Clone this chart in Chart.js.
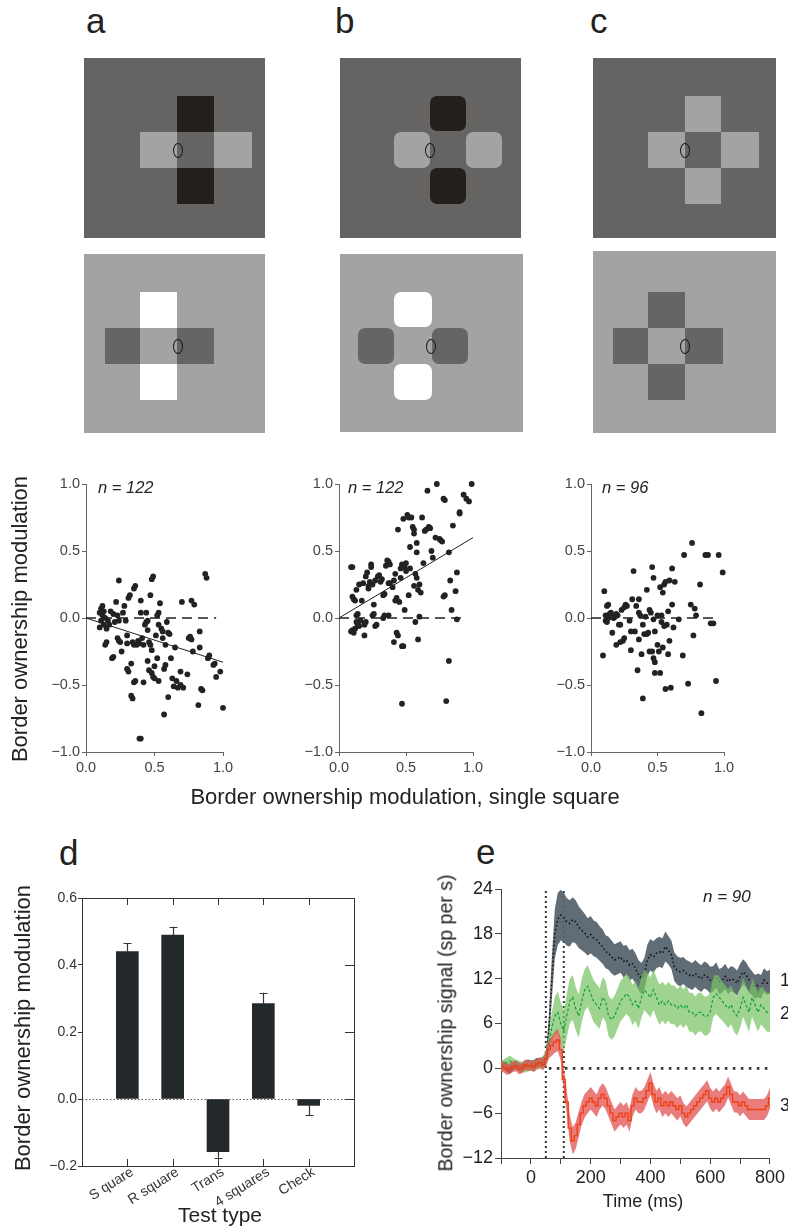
<!DOCTYPE html>
<html><head><meta charset="utf-8">
<script src="https://cdn.jsdelivr.net/npm/chart.js@4.4.1/dist/chart.umd.min.js"></script>
<style>
html,body{margin:0;padding:0;background:#fff;}
body{width:788px;height:1230px;position:relative;overflow:hidden;font-family:'Liberation Sans',Arial,Helvetica,sans-serif;color:#222;}
canvas{position:absolute;}
.t{position:absolute;white-space:nowrap;line-height:1;}
.rot{transform:translate(-50%,-50%) rotate(-90deg);}
.ctr{transform:translate(-50%,-50%);}
.c{position:absolute;}
.eye{position:absolute;border:1px solid #1a1a1a;border-radius:50%;box-sizing:border-box;width:10px;height:15px;}
.lt{position:absolute;font-size:35px;line-height:1;color:#222;}
.nn{position:absolute;font-style:italic;line-height:1;color:#222;white-space:nowrap;}
</style></head><body>

<!-- panel letters -->
<div class="lt" style="left:86px;top:3px">a</div>
<div class="lt" style="left:335px;top:3px">b</div>
<div class="lt" style="left:590px;top:3px">c</div>
<div class="lt" style="left:59px;top:835px">d</div>
<div class="lt" style="left:476px;top:834px">e</div>

<!-- stimulus a -->
<div class="c" style="left:84px;top:58px;width:181px;height:180px;background:#666462"></div>
<div class="c" style="left:177px;top:96px;width:37px;height:36px;background:#221f1c"></div>
<div class="c" style="left:177px;top:168px;width:37px;height:36px;background:#221f1c"></div>
<div class="c" style="left:140px;top:132px;width:37px;height:36px;background:#a3a3a1"></div>
<div class="c" style="left:214px;top:132px;width:38px;height:36px;background:#a3a3a1"></div>
<div class="eye" style="left:173px;top:143px"></div>

<div class="c" style="left:84px;top:254px;width:181px;height:179px;background:#a3a3a2"></div>
<div class="c" style="left:140px;top:292px;width:37px;height:36px;background:#ffffff"></div>
<div class="c" style="left:140px;top:364px;width:37px;height:36px;background:#ffffff"></div>
<div class="c" style="left:105px;top:328px;width:35px;height:36px;background:#666564"></div>
<div class="c" style="left:177px;top:328px;width:37px;height:36px;background:#666564"></div>
<div class="eye" style="left:173px;top:339px"></div>

<!-- stimulus b -->
<div class="c" style="left:340px;top:58px;width:181px;height:180px;background:#666462"></div>
<div class="c" style="left:430px;top:96px;width:36px;height:35px;background:#221f1c;border-radius:7px"></div>
<div class="c" style="left:430px;top:168px;width:36px;height:36px;background:#221f1c;border-radius:7px"></div>
<div class="c" style="left:394px;top:132px;width:36px;height:36px;background:#a3a3a1;border-radius:7px"></div>
<div class="c" style="left:466px;top:132px;width:36px;height:36px;background:#a3a3a1;border-radius:7px"></div>
<div class="eye" style="left:425px;top:143px"></div>

<div class="c" style="left:340px;top:254px;width:183px;height:178px;background:#a3a3a2"></div>
<div class="c" style="left:394px;top:292px;width:38px;height:35px;background:#ffffff;border-radius:7px"></div>
<div class="c" style="left:394px;top:364px;width:38px;height:36px;background:#ffffff;border-radius:7px"></div>
<div class="c" style="left:358px;top:328px;width:36px;height:36px;background:#666564;border-radius:7px"></div>
<div class="c" style="left:432px;top:328px;width:36px;height:36px;background:#666564;border-radius:7px"></div>
<div class="eye" style="left:426px;top:339px"></div>

<!-- stimulus c -->
<div class="c" style="left:593px;top:58px;width:183px;height:180px;background:#666462"></div>
<div class="c" style="left:685px;top:96px;width:36px;height:36px;background:#a3a3a1"></div>
<div class="c" style="left:648px;top:132px;width:37px;height:36px;background:#a3a3a1"></div>
<div class="c" style="left:721px;top:132px;width:38px;height:36px;background:#a3a3a1"></div>
<div class="c" style="left:685px;top:168px;width:36px;height:36px;background:#a3a3a1"></div>
<div class="eye" style="left:680px;top:143px"></div>

<div class="c" style="left:593px;top:251px;width:183px;height:182px;background:#a3a3a2"></div>
<div class="c" style="left:648px;top:292px;width:37px;height:36px;background:#666564"></div>
<div class="c" style="left:613px;top:328px;width:35px;height:36px;background:#666564"></div>
<div class="c" style="left:685px;top:328px;width:38px;height:36px;background:#666564"></div>
<div class="c" style="left:648px;top:364px;width:37px;height:36px;background:#666564"></div>
<div class="eye" style="left:680px;top:339px"></div>

<!-- chart canvases -->
<canvas id="sa" width="211" height="320" style="left:30px;top:470px"></canvas>
<canvas id="sb" width="208" height="320" style="left:283px;top:470px"></canvas>
<canvas id="sc" width="207" height="320" style="left:535px;top:470px"></canvas>
<canvas id="bd" width="370" height="350" style="left:0px;top:880px"></canvas>
<canvas id="le" width="358" height="360" style="left:430px;top:870px"></canvas>

<!-- text -->
<div class="nn" style="left:98px;top:479px;font-size:16.5px">n = 122</div>
<div class="nn" style="left:348px;top:479px;font-size:16.5px">n = 122</div>
<div class="nn" style="left:602px;top:479px;font-size:16.5px">n = 96</div>
<div class="nn" style="left:703px;top:888px;font-size:17px">n = 90</div>

<div class="t rot" style="left:20px;top:619px;font-size:22px">Border ownership modulation</div>
<div class="t ctr" style="left:405px;top:797px;font-size:22px">Border ownership modulation, single square</div>
<div class="t rot" style="left:23px;top:1028px;font-size:22px">Border ownership modulation</div>
<div class="t ctr" style="left:220px;top:1214px;font-size:21px">Test type</div>
<div class="t rot" style="left:446px;top:1023px;font-size:19.5px">Border ownership signal (sp per s)</div>
<div class="t ctr" style="left:643px;top:1201px;font-size:18px">Time (ms)</div>
<div class="t" style="left:780px;top:971px;font-size:18px">1</div>
<div class="t" style="left:780px;top:1004px;font-size:18px">2</div>
<div class="t" style="left:780px;top:1096px;font-size:18px">3</div>

<script>
// ---------------- DATA ----------------
// Scatter a: [single-square modulation, cross modulation]
const SCATTER_A = [
[0.10,0.04],[0.11,0.07],[0.12,0.02],[0.13,0.05],[0.11,-0.02],[0.13,-0.05],[0.14,0.00],[0.15,-0.08],[0.10,-0.07],[0.16,-0.02],
[0.17,-0.05],[0.12,0.09],[0.15,-0.18],[0.14,-0.20],[0.18,0.05],[0.20,0.03],[0.21,-0.03],[0.19,-0.30],[0.20,-0.29],[0.22,0.12],
[0.23,0.02],[0.24,-0.02],[0.23,-0.15],[0.24,-0.17],[0.25,-0.18],[0.26,-0.25],[0.24,0.28],[0.27,0.04],[0.28,0.09],[0.29,-0.02],
[0.30,-0.13],[0.30,-0.19],[0.31,0.15],[0.32,0.17],[0.30,-0.38],[0.31,-0.40],[0.33,-0.34],[0.34,-0.18],[0.35,-0.20],[0.35,0.22],
[0.36,0.24],[0.35,-0.48],[0.36,-0.47],[0.33,-0.58],[0.34,-0.60],[0.37,-0.20],[0.38,-0.17],[0.39,-0.19],[0.40,0.13],[0.40,0.04],
[0.41,-0.15],[0.39,-0.90],[0.40,-0.90],[0.42,-0.20],[0.42,-0.48],[0.43,-0.05],[0.44,-0.03],[0.45,-0.02],[0.45,-0.09],[0.44,0.04],
[0.46,-0.18],[0.47,-0.20],[0.47,0.17],[0.48,0.29],[0.49,0.31],[0.48,-0.24],[0.45,-0.32],[0.46,-0.39],[0.48,-0.41],[0.49,-0.44],
[0.50,-0.45],[0.50,-0.36],[0.51,-0.13],[0.52,0.02],[0.53,0.04],[0.53,-0.05],[0.54,0.11],[0.52,-0.30],[0.53,-0.47],[0.55,-0.08],
[0.56,-0.10],[0.56,-0.15],[0.57,-0.38],[0.57,-0.72],[0.58,-0.35],[0.58,-0.20],[0.59,-0.03],[0.60,-0.11],[0.61,-0.12],[0.60,-0.59],
[0.62,-0.30],[0.63,-0.45],[0.64,-0.51],[0.65,-0.22],[0.66,-0.47],[0.67,-0.52],[0.69,-0.50],[0.69,-0.40],[0.70,0.12],[0.71,-0.52],
[0.74,-0.42],[0.75,-0.15],[0.76,-0.14],[0.77,-0.16],[0.77,0.13],[0.78,-0.25],[0.79,0.10],[0.82,-0.65],[0.83,-0.22],[0.83,-0.10],
[0.84,-0.53],[0.85,-0.54],[0.87,0.33],[0.88,0.30],[0.89,-0.30],[0.90,-0.28],[0.93,-0.35],[0.94,-0.34],[0.95,-0.44],[0.98,-0.40],
[1.00,-0.67]
];
const SCATTER_B = [
[0.09,0.38],[0.10,0.38],[0.10,0.16],[0.11,0.14],[0.12,0.13],[0.13,0.21],[0.15,0.25],[0.17,0.13],[0.18,0.26],[0.09,-0.10],
[0.10,-0.09],[0.11,-0.11],[0.12,-0.08],[0.13,-0.03],[0.13,0.02],[0.14,0.03],[0.14,-0.05],[0.15,-0.06],[0.16,-0.02],[0.19,-0.13],
[0.19,-0.05],[0.20,-0.03],[0.20,0.31],[0.21,0.34],[0.22,0.22],[0.22,0.24],[0.23,0.27],[0.24,0.40],[0.24,0.38],[0.25,0.25],
[0.26,0.10],[0.27,0.28],[0.25,0.02],[0.26,0.03],[0.27,-0.06],[0.28,-0.05],[0.29,0.31],[0.30,0.32],[0.31,0.27],[0.32,0.29],
[0.33,0.17],[0.34,0.18],[0.33,0.00],[0.34,0.02],[0.35,0.39],[0.36,0.43],[0.37,0.42],[0.38,0.40],[0.37,0.02],[0.37,0.26],
[0.38,0.26],[0.40,0.23],[0.41,0.28],[0.42,0.33],[0.42,0.13],[0.43,0.15],[0.41,-0.18],[0.43,-0.11],[0.44,-0.13],[0.44,0.66],
[0.45,0.12],[0.46,0.30],[0.46,0.37],[0.47,0.40],[0.47,-0.21],[0.48,-0.21],[0.47,-0.64],[0.48,0.74],[0.49,0.38],[0.49,0.06],
[0.50,0.35],[0.50,0.41],[0.51,0.77],[0.52,0.75],[0.52,0.17],[0.53,0.37],[0.53,0.53],[0.54,0.75],[0.55,0.68],[0.56,0.66],
[0.56,0.63],[0.56,0.24],[0.57,0.33],[0.57,-0.03],[0.58,0.49],[0.58,0.56],[0.58,0.30],[0.59,0.21],[0.59,-0.16],[0.60,0.01],
[0.60,0.25],[0.61,0.19],[0.62,0.75],[0.63,0.41],[0.64,0.65],[0.65,0.66],[0.66,0.95],[0.67,0.68],[0.68,0.67],[0.69,0.50],
[0.70,0.45],[0.72,0.60],[0.73,1.00],[0.75,0.59],[0.76,0.58],[0.77,0.57],[0.78,0.16],[0.79,0.17],[0.78,0.89],[0.79,0.88],
[0.80,-0.62],[0.82,0.49],[0.82,-0.32],[0.83,0.28],[0.84,0.06],[0.85,0.69],[0.87,0.20],[0.88,0.34],[0.88,-0.01],[0.90,0.79],
[0.90,0.78],[0.93,0.92],[0.95,0.89],[0.97,0.87],[0.99,1.00]
];
const SCATTER_C = [
[0.09,-0.28],[0.10,0.20],[0.11,-0.02],[0.11,0.02],[0.12,0.09],[0.12,-0.03],[0.13,0.10],[0.13,0.00],[0.14,0.03],[0.15,0.04],
[0.16,-0.11],[0.17,0.00],[0.18,0.01],[0.19,0.03],[0.19,-0.20],[0.20,0.02],[0.21,-0.05],[0.22,-0.05],[0.22,-0.18],[0.23,0.06],
[0.24,-0.17],[0.25,0.08],[0.25,-0.15],[0.26,0.10],[0.27,0.09],[0.29,-0.02],[0.30,-0.24],[0.30,-0.10],[0.31,0.14],[0.32,0.35],
[0.33,-0.10],[0.34,0.09],[0.35,-0.39],[0.36,-0.16],[0.36,0.14],[0.36,0.04],[0.37,0.02],[0.38,-0.27],[0.39,-0.05],[0.39,-0.60],
[0.40,-0.12],[0.41,0.01],[0.42,-0.12],[0.42,0.21],[0.43,-0.11],[0.44,-0.25],[0.44,0.06],[0.45,0.04],[0.46,-0.25],[0.46,0.38],
[0.47,-0.30],[0.47,-0.01],[0.47,0.30],[0.48,-0.33],[0.48,-0.10],[0.48,-0.41],[0.50,-0.20],[0.50,0.02],[0.51,-0.25],[0.52,-0.41],
[0.52,0.23],[0.53,0.02],[0.53,-0.03],[0.54,-0.22],[0.54,0.19],[0.55,0.25],[0.55,-0.06],[0.56,-0.53],[0.56,0.27],[0.57,-0.05],
[0.58,-0.27],[0.58,0.05],[0.59,-0.17],[0.59,0.28],[0.60,-0.52],[0.61,0.10],[0.61,0.37],[0.62,-0.07],[0.63,0.27],[0.66,-0.01],
[0.69,-0.28],[0.70,0.47],[0.73,-0.49],[0.75,0.10],[0.76,0.56],[0.77,-0.13],[0.78,0.07],[0.79,0.02],[0.82,0.25],[0.83,-0.71],
[0.86,0.47],[0.88,0.47],[0.90,-0.04],[0.92,-0.04],[0.94,-0.47],[0.96,0.47],[0.99,0.34]
];
const FIT_A = [[0,0],[1.0,-0.33]];
const FIT_B = [[0,0],[1.0,0.60]];
const ZERO_END_A = 0.95, ZERO_END_B = 0.955, ZERO_END_C = 0.96;

// Panel d
const TEST_TYPES = ['S quare','R square','Trans','4 squares','Check'];
const MODULATION = [0.440, 0.489, -0.157, 0.285, -0.019];
const MOD_SEM = [0.026, 0.025, 0.018, 0.032, 0.029];

// Panel e (time in ms, signal in spikes/s)
const TIME_MS = [
-100,-90,-80,-70,-60,-50,-40,-30,-20,-10,
0,10,20,30,40,50,60,70,80,90,
100,110,120,130,140,150,160,170,180,190,
200,210,220,230,240,250,260,270,280,290,
300,310,320,330,340,350,360,370,380,390,
400,410,420,430,440,450,460,470,480,490,
500,510,520,530,540,550,560,570,580,590,
600,610,620,630,640,650,660,670,680,690,
700,710,720,730,740,750,760,770,780,790,
800];
const SIG1_MEAN = [
0.2,0.4,0.1,-0.2,0.3,0.5,0.2,0.0,0.3,0.6,
0.4,0.5,0.8,0.7,0.9,1.0,5.0,12.0,18.0,20.0,
20.5,20.2,19.6,19.4,19.9,19.6,18.9,18.5,18.1,17.6,
17.9,17.4,17.2,16.7,16.3,15.6,15.4,14.9,14.5,14.7,
14.9,14.3,14.5,13.8,14.0,13.4,12.5,12.0,12.7,14.5,
15.2,14.9,15.4,15.6,15.4,16.3,15.8,15.2,13.6,13.1,
12.9,13.1,12.7,12.5,12.3,12.7,12.3,12.0,12.5,12.3,
11.8,12.0,12.5,11.6,11.8,12.3,11.6,12.0,11.8,11.4,
12.3,12.9,12.5,11.8,11.4,10.9,11.1,10.9,11.8,11.4,
11.6];
const SIG1_SEM = [
0.6,0.6,0.6,0.6,0.6,0.6,0.6,0.6,0.6,0.6,
0.6,0.6,0.6,0.6,0.7,0.9,1.8,2.8,3.3,3.5,
3.4,3.3,3.2,3.1,3.0,2.9,2.8,2.7,2.6,2.5,
2.5,2.4,2.4,2.3,2.3,2.2,2.2,2.2,2.1,2.1,
2.1,2.1,2.0,2.0,2.0,2.0,2.0,2.1,2.1,2.1,
2.1,2.1,2.0,2.0,2.0,2.0,1.9,1.9,1.9,1.9,
1.9,1.8,1.8,1.8,1.8,1.8,1.8,1.8,1.8,1.8,
1.8,1.7,1.7,1.7,1.7,1.7,1.7,1.7,1.7,1.7,
1.7,1.7,1.7,1.7,1.6,1.6,1.6,1.6,1.6,1.6,
1.6];
const SIG2_MEAN = [
0.2,0.5,0.8,1.0,0.7,0.4,0.3,0.2,0.1,0.3,
0.4,0.2,0.5,0.6,0.8,1.5,3.0,5.5,7.0,7.5,
6.0,5.0,7.0,9.0,9.5,8.0,7.0,9.0,10.5,11.0,
10.0,9.0,8.5,8.0,9.5,9.0,7.0,6.5,7.0,8.0,
9.0,9.5,10.0,9.5,8.5,9.0,8.0,9.5,10.5,10.0,
9.5,10.5,9.5,8.5,9.0,8.5,9.0,8.5,8.5,8.0,
8.5,8.0,8.5,7.5,7.5,7.0,7.5,7.5,7.0,7.0,
7.5,9.5,10.0,9.5,9.0,8.5,8.0,8.5,7.5,7.0,
8.0,9.5,8.5,7.5,9.5,8.5,7.5,8.5,8.0,7.5,
7.5];
const SIG2_SEM = [
0.7,0.7,0.7,0.7,0.7,0.7,0.7,0.7,0.7,0.7,
0.7,0.7,0.7,0.7,0.8,1.0,1.5,2.0,2.5,2.8,
2.8,2.8,2.9,3.0,3.0,2.9,2.9,2.9,2.8,2.8,
2.8,2.8,2.8,2.7,2.7,2.7,2.7,2.7,2.7,2.7,
2.7,2.7,2.7,2.7,2.7,2.7,2.7,2.7,2.7,2.7,
2.7,2.7,2.7,2.7,2.6,2.6,2.6,2.6,2.6,2.6,
2.6,2.6,2.6,2.6,2.6,2.6,2.6,2.6,2.6,2.6,
2.6,2.7,2.7,2.7,2.6,2.6,2.6,2.6,2.6,2.6,
2.6,2.6,2.6,2.6,2.6,2.6,2.6,2.6,2.6,2.6,
2.6];
const SIG3_MEAN = [
0.3,0.1,-0.2,0.0,0.2,0.3,-0.1,0.0,0.5,0.3,
0.4,0.2,0.6,0.8,0.5,1.2,2.5,3.0,3.5,3.8,
2.5,-1.5,-4.5,-8.0,-9.7,-9.0,-7.5,-6.0,-5.0,-4.5,
-4.0,-4.5,-5.0,-4.0,-3.5,-4.0,-5.0,-6.0,-7.0,-6.5,
-6.0,-6.5,-6.0,-7.0,-5.0,-4.0,-4.5,-4.5,-4.0,-3.0,
-2.0,-3.5,-4.5,-4.0,-5.0,-4.5,-5.0,-4.5,-5.0,-5.5,
-5.0,-6.0,-6.5,-6.0,-5.5,-5.0,-4.5,-4.0,-3.5,-3.0,
-4.0,-4.5,-4.0,-4.5,-4.0,-3.5,-2.5,-3.5,-4.5,-4.5,
-5.0,-4.5,-5.0,-5.5,-5.5,-5.5,-5.5,-5.5,-5.5,-5.0,
-4.0];
const SIG3_SEM = [
0.7,0.7,0.7,0.7,0.7,0.7,0.7,0.7,0.7,0.7,
0.7,0.7,0.7,0.7,0.8,1.0,1.2,1.3,1.4,1.5,
1.5,1.6,1.7,1.8,1.8,1.8,1.7,1.6,1.6,1.5,
1.5,1.5,1.5,1.5,1.5,1.5,1.5,1.5,1.5,1.5,
1.5,1.5,1.5,1.5,1.5,1.5,1.5,1.5,1.5,1.5,
1.5,1.5,1.5,1.5,1.5,1.5,1.5,1.5,1.5,1.5,
1.4,1.4,1.4,1.4,1.4,1.4,1.4,1.4,1.4,1.4,
1.4,1.4,1.4,1.4,1.4,1.4,1.4,1.4,1.4,1.4,
1.4,1.4,1.4,1.4,1.4,1.4,1.4,1.4,1.4,1.4,
1.4];
const ONSET_LINES_MS = [50, 110];
const ZERO_LINE_MS = [60, 800];

// ---------------- CHARTS ----------------
Chart.defaults.font.family = "'Liberation Sans', Arial, Helvetica, sans-serif";
Chart.defaults.animation = false;
Chart.defaults.events = [];
Chart.defaults.plugins.legend.display = false;
Chart.defaults.plugins.tooltip.enabled = false;

const fmt1 = v => (Math.abs(v) < 1e-9 ? '0.0' : v.toFixed(1).replace('-', '\u2212'));
const fmtInt = v => String(v).replace('-', '\u2212');
const toXY = arr => arr.map(p => ({x: p[0], y: p[1]}));

function scatterChart(id, points, fit, zeroEnd) {
  const ds = [
    {data: toXY(points), pointRadius: 2.9, pointBackgroundColor: '#222', pointBorderWidth: 0, clip: false, order: 1}
  ];
  if (fit) ds.push({data: toXY(fit), showLine: true, pointRadius: 0, borderColor: '#222', borderWidth: 1, clip: false, order: 2});
  ds.push({data: toXY([[0, 0], [zeroEnd, 0]]), showLine: true, pointRadius: 0, borderColor: '#222', borderWidth: 1.3, borderDash: [10, 6], order: 3});
  const axisCommon = {
    grid: {display: true, drawOnChartArea: false, drawTicks: true, tickLength: 4, color: '#666', tickColor: '#666'},
    border: {display: true, color: '#666', width: 1}
  };
  return new Chart(document.getElementById(id), {
    type: 'scatter',
    data: {datasets: ds},
    options: {
      responsive: false, devicePixelRatio: 1,
      layout: {padding: {top: 14, right: 18, left: 0, bottom: 0}},
      scales: {
        x: Object.assign({type: 'linear', min: 0, max: 1,
          ticks: {stepSize: 0.5, callback: fmt1, color: '#444', font: {size: 14.5}, padding: 3, maxRotation: 0},
          afterFit: s => { s.height = 38; }}, axisCommon),
        y: Object.assign({type: 'linear', min: -1, max: 1,
          ticks: {stepSize: 0.5, callback: fmt1, color: '#444', font: {size: 14.5}, padding: 2},
          afterFit: s => { s.width = 56; }}, axisCommon)
      }
    }
  });
}
scatterChart('sa', SCATTER_A, FIT_A, ZERO_END_A);
scatterChart('sb', SCATTER_B, FIT_B, ZERO_END_B);
scatterChart('sc', SCATTER_C, null, ZERO_END_C);

// Panel d bar chart
const barFrame = {
  id: 'barFrame',
  beforeDatasetsDraw(chart) {
    const {ctx, chartArea: a, scales: {y}} = chart;
    const y0 = Math.round(y.getPixelForValue(0)) + 0.5;
    ctx.save();
    ctx.strokeStyle = '#555'; ctx.lineWidth = 1; ctx.setLineDash([1.5, 2]);
    ctx.beginPath(); ctx.moveTo(a.left, y0); ctx.lineTo(a.right, y0); ctx.stroke();
    ctx.restore();
  },
  afterDatasetsDraw(chart) {
    const {ctx, scales: {y}} = chart;
    const meta = chart.getDatasetMeta(0);
    ctx.save();
    ctx.strokeStyle = '#333'; ctx.lineWidth = 1.2;
    MODULATION.forEach((v, i) => {
      const bar = meta.data[i + 1];
      const tip = v + Math.sign(v) * MOD_SEM[i];
      const yb = y.getPixelForValue(v), yt = y.getPixelForValue(tip);
      const x = Math.round(bar.x) + 0.5;
      ctx.beginPath();
      ctx.moveTo(x, yb); ctx.lineTo(x, yt);
      ctx.moveTo(x - 4, Math.round(yt) + 0.5); ctx.lineTo(x + 4, Math.round(yt) + 0.5);
      ctx.stroke();
    });
    ctx.restore();
  },
  afterDraw(chart) {
    const {ctx, chartArea: a, scales: {x, y}} = chart;
    ctx.save();
    ctx.strokeStyle = '#333'; ctx.lineWidth = 1;
    ctx.strokeRect(Math.round(a.left) + 0.5, Math.round(a.top) + 0.5, Math.round(a.right - a.left), Math.round(a.bottom - a.top));
    ctx.beginPath();
    TEST_TYPES.forEach((c, i) => {
      const px = Math.round(x.getPixelForValue(i + 1)) + 0.5;
      ctx.moveTo(px, a.top); ctx.lineTo(px, a.top + 7);
      ctx.moveTo(px, a.bottom); ctx.lineTo(px, a.bottom - 7);
    });
    y.ticks.forEach(t => {
      const py = Math.round(y.getPixelForValue(t.value)) + 0.5;
      ctx.moveTo(a.right, py); ctx.lineTo(a.right - 9, py);
    });
    ctx.stroke();
    ctx.restore();
  }
};
new Chart(document.getElementById('bd'), {
  type: 'bar',
  data: {
    labels: ['', ...TEST_TYPES, ''],
    datasets: [{data: [null, ...MODULATION, null], backgroundColor: '#23282b', barThickness: 22, borderWidth: 0}]
  },
  options: {
    responsive: false, devicePixelRatio: 1,
    layout: {padding: {top: 18, right: 16, left: 0, bottom: 0}},
    scales: {
      x: {type: 'category', offset: false,
        grid: {display: true, offset: false, drawOnChartArea: false, drawTicks: false},
        border: {display: true, color: '#333'},
        ticks: {autoSkip: false, minRotation: 32, maxRotation: 32, color: '#333', font: {size: 14}, padding: -2, labelOffset: 5},
        afterFit: s => { s.height = 64; }},
      y: {type: 'linear', min: -0.2, max: 0.6,
        grid: {display: true, drawOnChartArea: false, drawTicks: true, tickLength: 4, color: '#333'},
        border: {display: true, color: '#333'},
        ticks: {stepSize: 0.2, callback: fmt1, color: '#333', font: {size: 14}, padding: 1},
        afterFit: s => { s.width = 82; }}
    }
  },
  plugins: [barFrame]
});

// Panel e line chart with SEM bands
const series = (vals) => TIME_MS.map((t, i) => ({x: t, y: vals[i]}));
const upper = (m, s) => series(m.map((v, i) => v + s[i]));
const lower = (m, s) => series(m.map((v, i) => v - s[i]));
const Y_RANGE_E = [-12, 24];
const lineBase = {pointRadius: 0, borderWidth: 0, tension: 0};
new Chart(document.getElementById('le'), {
  type: 'line',
  data: {datasets: [
    Object.assign({}, lineBase, {data: [{x: ONSET_LINES_MS[0], y: Y_RANGE_E[0]}, {x: ONSET_LINES_MS[0], y: Y_RANGE_E[1]}], borderColor: '#333', borderWidth: 2, borderDash: [2, 3], order: 30}),
    Object.assign({}, lineBase, {data: [{x: ONSET_LINES_MS[1], y: Y_RANGE_E[0]}, {x: ONSET_LINES_MS[1], y: Y_RANGE_E[1]}], borderColor: '#333', borderWidth: 2, borderDash: [2, 3], order: 30}),
    Object.assign({}, lineBase, {data: [{x: ZERO_LINE_MS[0], y: 0}, {x: ZERO_LINE_MS[1], y: 0}], borderColor: '#333', borderWidth: 2.6, borderDash: [2.6, 5.4], order: 29}),
    Object.assign({}, lineBase, {data: upper(SIG1_MEAN, SIG1_SEM), fill: '+1', backgroundColor: 'rgba(88,101,111,0.95)', order: 20}),
    Object.assign({}, lineBase, {data: lower(SIG1_MEAN, SIG1_SEM), fill: false, order: 20}),
    Object.assign({}, lineBase, {data: series(SIG1_MEAN), borderColor: '#111', borderWidth: 1.6, borderDash: [1.5, 2.5], order: 19}),
    Object.assign({}, lineBase, {data: upper(SIG2_MEAN, SIG2_SEM), fill: '+1', backgroundColor: 'rgba(120,196,100,0.72)', order: 18}),
    Object.assign({}, lineBase, {data: lower(SIG2_MEAN, SIG2_SEM), fill: false, order: 18}),
    Object.assign({}, lineBase, {data: series(SIG2_MEAN), borderColor: '#13a03a', borderWidth: 1.2, borderDash: [3, 2], order: 17}),
    Object.assign({}, lineBase, {data: upper(SIG3_MEAN, SIG3_SEM), fill: '+1', backgroundColor: 'rgba(226,82,82,0.75)', order: 16}),
    Object.assign({}, lineBase, {data: lower(SIG3_MEAN, SIG3_SEM), fill: false, order: 16}),
    Object.assign({}, lineBase, {data: series(SIG3_MEAN), borderColor: '#f0400f', borderWidth: 1.4, stepped: 'middle', order: 15})
  ]},
  options: {
    responsive: false, devicePixelRatio: 1,
    layout: {padding: {top: 19, right: 17, left: 0, bottom: 0}},
    scales: {
      x: {type: 'linear', min: -100, max: 800,
        grid: {display: true, drawOnChartArea: false, drawTicks: true, tickLength: 6, color: '#444'},
        border: {display: true, color: '#444'},
        ticks: {stepSize: 100, autoSkip: false, maxRotation: 0, callback: v => (v % 200 === 0 ? fmtInt(v) : ''), color: '#222', font: {size: 18}, padding: 3},
        afterFit: s => { s.height = 72; }},
      y: {type: 'linear', min: Y_RANGE_E[0], max: Y_RANGE_E[1],
        grid: {display: true, drawOnChartArea: false, drawTicks: true, tickLength: 6, color: '#444'},
        border: {display: true, color: '#444'},
        ticks: {stepSize: 6, callback: fmtInt, color: '#222', font: {size: 18}, padding: 2},
        afterFit: s => { s.width = 71; }}
    }
  }
});
</script>
</body></html>
